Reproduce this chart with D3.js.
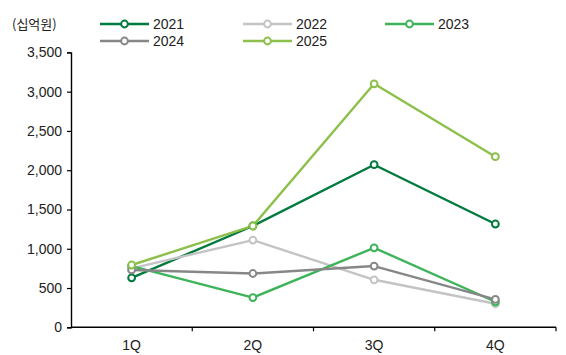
<!DOCTYPE html>
<html>
<head>
<meta charset="utf-8">
<script src="https://cdn.jsdelivr.net/npm/d3@7"></script>
<style>
  html, body { margin: 0; padding: 0; background: #fff; }
  svg { display: block; font-family: "Liberation Sans", Arial, sans-serif; }
</style>
</head>
<body>
<svg id="chart" width="566" height="355"></svg>
<script>
// Quarterly values (십억원)
const quarters = ["1Q", "2Q", "3Q", "4Q"];
const years = ["2021", "2022", "2023", "2024", "2025"];
const v2021 = [630, 1290, 2070, 1315];
const v2022 = [750, 1110, 605, 300];
const v2023 = [780, 378, 1012, 325];
const v2024 = [730, 685, 780, 355];
const v2025 = [793, 1290, 3100, 2172];
const yTicks = [0, 500, 1000, 1500, 2000, 2500, 3000, 3500];
const colors = ["#007A3D", "#C4C4C4", "#3DB45A", "#878787", "#8CC04B"];

const seriesValues = [v2021, v2022, v2023, v2024, v2025];
const series = years.map((y, i) => ({ name: y, values: seriesValues[i], color: colors[i] }));

const svg = d3.select("#chart");
const margin = { left: 71, right: 10, top: 52, bottom: 28 };

const x = d3.scaleBand().domain(quarters).range([margin.left, 556]);
const y = d3.scaleLinear().domain([0, 3500]).range([327.3, 52.4]);

const fmt = d3.format(",");

// y axis
const yAxis = svg.append("g")
  .attr("transform", `translate(${margin.left},0)`)
  .call(d3.axisLeft(y).tickValues(yTicks).tickSize(4).tickPadding(4).tickFormat(fmt));
yAxis.select(".domain").attr("stroke", "#000").attr("stroke-width", 1.4);
yAxis.selectAll(".tick line").attr("stroke", "#000").attr("stroke-width", 1.2);
yAxis.selectAll(".tick text").attr("font-size", 14).attr("fill", "#222")
  .attr("font-family", "Liberation Sans, Arial, sans-serif").attr("dx", "-1");

// x axis with ticks at band boundaries
const xg = svg.append("g").attr("transform", `translate(0,${y(0)})`);
xg.append("line").attr("x1", margin.left).attr("x2", 556)
  .attr("stroke", "#000").attr("stroke-width", 1.4);
const bounds = quarters.map(q => x(q) + x.bandwidth());
xg.selectAll("line.tk").data(bounds).join("line").attr("class", "tk")
  .attr("x1", d => d).attr("x2", d => d).attr("y1", 0).attr("y2", 4)
  .attr("stroke", "#000").attr("stroke-width", 1.2);
xg.selectAll("text").data(quarters).join("text")
  .attr("x", d => x(d) + x.bandwidth() / 2)
  .attr("y", 23)
  .attr("text-anchor", "middle")
  .attr("font-size", 14).attr("fill", "#222")
  .text(d => d);

// lines
const line = d3.line()
  .x((d, i) => x(quarters[i]) + x.bandwidth() / 2)
  .y(d => y(d));

const g = svg.append("g");
series.forEach(s => {
  g.append("path").datum(s.values)
    .attr("d", line)
    .attr("fill", "none")
    .attr("stroke", s.color)
    .attr("stroke-width", 2.4)
    .attr("stroke-linejoin", "round");
});
series.forEach(s => {
  g.selectAll(null).data(s.values).join("circle")
    .attr("cx", (d, i) => x(quarters[i]) + x.bandwidth() / 2)
    .attr("cy", d => y(d))
    .attr("r", 3.4)
    .attr("fill", "#fff")
    .attr("stroke", s.color)
    .attr("stroke-width", 2);
});

// unit label
svg.append("text").attr("x", 12).attr("y", 29)
  .attr("font-size", 13).attr("fill", "#222")
  .attr("font-family", "Noto Sans CJK KR, sans-serif")
  .text("(십억원)");

// legend
const legendPos = [
  { x: 100, y: 24 }, { x: 243, y: 24 }, { x: 385, y: 24 },
  { x: 100, y: 41 }, { x: 243, y: 41 }
];
series.forEach((s, i) => {
  const p = legendPos[i];
  const lg = svg.append("g").attr("transform", `translate(${p.x},${p.y})`);
  lg.append("line").attr("x1", 0).attr("x2", 49).attr("y1", 0).attr("y2", 0)
    .attr("stroke", s.color).attr("stroke-width", 2.4);
  lg.append("circle").attr("cx", 24.5).attr("cy", 0).attr("r", 3.4)
    .attr("fill", "#fff").attr("stroke", s.color).attr("stroke-width", 2);
  lg.append("text").attr("x", 53).attr("y", 5)
    .attr("font-size", 14).attr("fill", "#222")
    .text(s.name);
});
</script>
</body>
</html>
